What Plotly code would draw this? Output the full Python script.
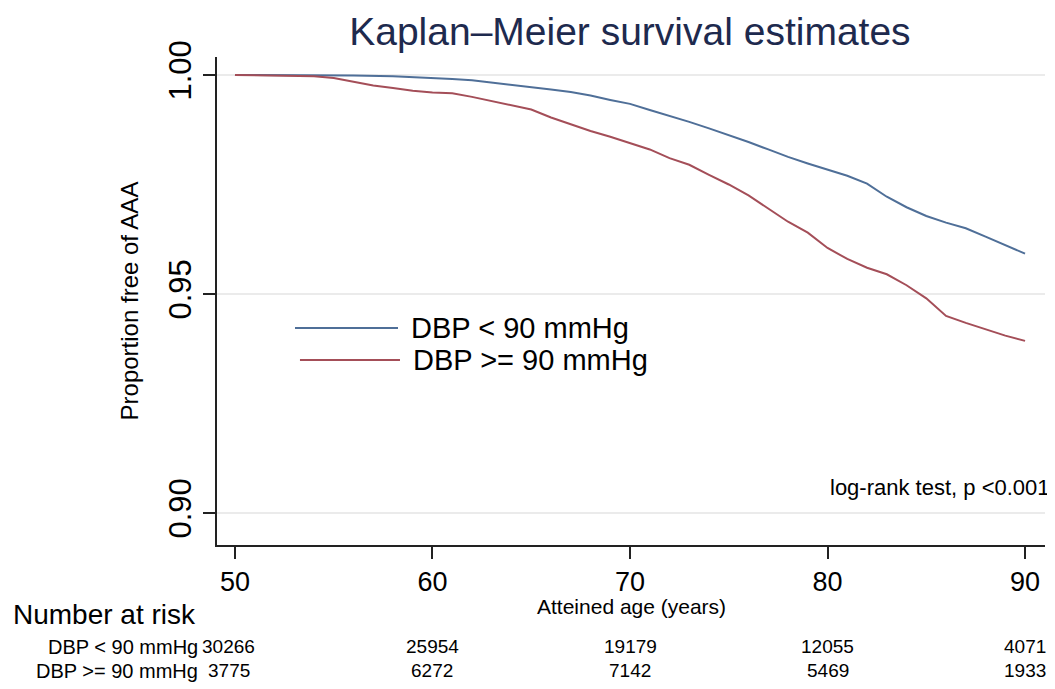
import plotly.graph_objects as go

# Kaplan-Meier estimates
age_lo = [50, 52, 54, 56, 58, 59, 60, 61, 62, 63, 64, 65, 66, 67, 68, 69, 70, 71, 72, 73,
          74, 75, 76, 77, 78, 79, 80, 81, 82, 83, 84, 85, 86, 87, 88, 89, 90]
surv_lo = [1.0000, 1.0000, 1.0000, 0.9999, 0.9997, 0.9995, 0.9994, 0.9991, 0.9988, 0.9983,
           0.9977, 0.9972, 0.9967, 0.9961, 0.9953, 0.9943, 0.9934, 0.9920, 0.9907, 0.9893,
           0.9878, 0.9863, 0.9847, 0.9830, 0.9813, 0.9798, 0.9784, 0.9770, 0.9752, 0.9722,
           0.9698, 0.9678, 0.9663, 0.9650, 0.9631, 0.9612, 0.9592]

age_hi = [50, 52, 54, 55, 56, 57, 58, 59, 60, 61, 62, 63, 64, 65, 66, 67, 68, 69, 70, 71,
          72, 73, 74, 75, 76, 77, 78, 79, 80, 81, 82, 83, 84, 85, 86, 87, 88, 89, 90]
surv_hi = [1.0000, 0.9999, 0.9997, 0.9993, 0.9985, 0.9976, 0.9970, 0.9964, 0.9960, 0.9958,
           0.9950, 0.9940, 0.9930, 0.9921, 0.9903, 0.9887, 0.9872, 0.9859, 0.9845, 0.9830,
           0.9810, 0.9795, 0.9772, 0.9750, 0.9725, 0.9695, 0.9665, 0.9640, 0.9605, 0.9580,
           0.9560, 0.9545, 0.9520, 0.9490, 0.9450, 0.9434, 0.9420, 0.9405, 0.9393]

risk_ages = [50, 60, 70, 80, 90]
risk_lo = [30266, 25954, 19179, 12055, 4071]
risk_hi = [3775, 6272, 7142, 5469, 1933]

x_ticks = [50, 60, 70, 80, 90]
y_ticks = [0.90, 0.95, 1.00]
y_ticklabels = ["0.90", "0.95", "1.00"]

name_lo = "DBP < 90 mmHg"
name_hi = "DBP >= 90 mmHg"

FONT = "Liberation Sans, Arial, Helvetica, sans-serif"
BLUE = "#4f6f98"
RED = "#a44e58"

fig = go.Figure()
fig.add_trace(go.Scatter(x=age_lo, y=surv_lo, mode="lines", name=name_lo,
                         line=dict(color=BLUE, width=2), showlegend=False))
fig.add_trace(go.Scatter(x=age_hi, y=surv_hi, mode="lines", name=name_hi,
                         line=dict(color=RED, width=2), showlegend=False))


def txt(text, x, y, size, xanchor="left", xref="paper", xshift=0):
    return dict(text=text, xref=xref, yref="paper", x=x, y=y, xanchor=xanchor,
                yanchor="middle", xshift=xshift, showarrow=False, borderpad=0,
                font=dict(family=FONT, size=size, color="black"))


ROW1 = -0.208
ROW2 = -0.258

annotations = [
    txt("log-rank test, p <0.001", 1.007, 0.118, 22, "right"),
    txt("Atteined age (years)", 0.5, -0.127, 21, "center"),
    txt("Number at risk", -0.248, -0.143, 28),
    txt(name_lo, -0.0215, ROW1, 20, "right"),
    txt(name_hi, -0.0215, ROW2, 20, "right"),
    # manual legend
    txt(name_lo, 0.2331, 0.4447, 29),
    txt(name_hi, 0.2355, 0.3791, 29),
]
for a, n1, n2 in zip(risk_ages, risk_lo, risk_hi):
    shift = -6 if a == risk_ages[0] else 0
    annotations.append(txt(str(n1), a, ROW1, 19, "center", xref="x", xshift=shift))
    annotations.append(txt(str(n2), a, ROW2, 19, "center", xref="x", xshift=shift))

shapes = [
    dict(type="line", xref="paper", yref="paper", x0=0.0942, x1=0.2186, y0=0.4447, y1=0.4447,
         line=dict(color=BLUE, width=2)),
    dict(type="line", xref="paper", yref="paper", x0=0.1002, x1=0.2210, y0=0.3791, y1=0.3791,
         line=dict(color=RED, width=2)),
]

fig.update_layout(
    width=1047, height=681,
    margin=dict(l=209, r=10, t=49, b=144),
    paper_bgcolor="white", plot_bgcolor="white",
    font=dict(family=FONT, color="black"),
    title=dict(text="Kaplan–Meier survival estimates", x=0.594, xanchor="center",
               y=0.965, yanchor="middle", yref="container",
               font=dict(family=FONT, size=39, color="#1e2a4e")),
    showlegend=False,
    annotations=annotations,
    shapes=shapes,
)

fig.update_xaxes(range=[49.09, 91.01], tickvals=x_ticks, ticks="outside", ticklen=12,
                 tickwidth=1.5, tickcolor="#222", showline=True, linecolor="#222",
                 linewidth=1.5, showgrid=False, zeroline=False,
                 tickfont=dict(family=FONT, size=27, color="black"))
fig.update_yaxes(range=[0.8927, 1.0041], tickvals=y_ticks, ticktext=y_ticklabels,
                 ticks="outside", ticklen=12, tickwidth=1.5, tickcolor="#222",
                 showline=True, linecolor="#222", linewidth=1.5, tickangle=-90,
                 showgrid=True, gridcolor="#ebebeb", gridwidth=1.5, zeroline=False,
                 tickfont=dict(family=FONT, size=31, color="black"),
                 title=dict(text="Proportion free of AAA", standoff=17,
                            font=dict(family=FONT, size=24, color="black")))

fig.write_html("out.html")
